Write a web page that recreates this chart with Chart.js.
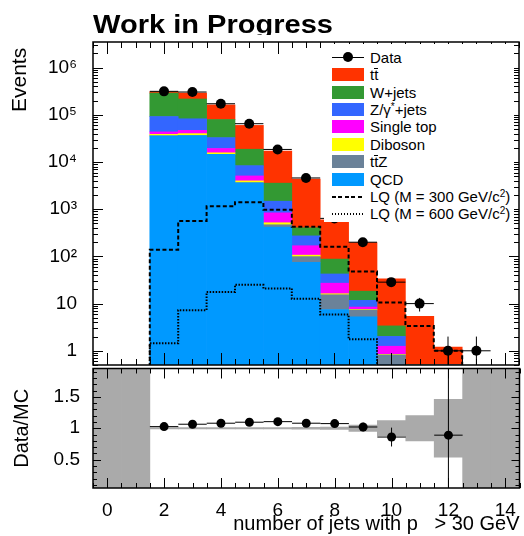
<!DOCTYPE html>
<html lang="en">
<head>
<meta charset="UTF-8">
<title>Jet multiplicity - Work in Progress</title>
<script src="https://cdn.jsdelivr.net/npm/chart.js"></script>
<style>
  html, body { margin: 0; padding: 0; background: #fff; }
  body { font-family: 'Liberation Sans', Arial, sans-serif; }
  #wrap { position: relative; width: 524px; height: 536px; overflow: hidden; }
  #main { position: absolute; left: 0; top: 0; }
  #ratio { position: absolute; left: 0; top: 362px; }
  #legend { position: absolute; left: 324px; top: 44px; width: 190px; height: 178px; background: #fff; }
  #legend .row { position: absolute; left: 0; width: 190px; height: 17px; }
  #legend .sym { position: absolute; left: 8px; top: 2px; width: 32px; height: 13px; }
  #legend .txt { position: absolute; left: 46px; top: 0; line-height: 17px; font-size: 15px; white-space: nowrap; color: #000; }
  #legend .ov { display: inline-block; border-top: 1px solid #000; line-height: 12px; }
  #legend sup { font-size: 10px; vertical-align: 5px; line-height: 0; }
</style>
</head>
<body>
<div id="wrap">
  <canvas id="main" width="524" height="370"></canvas>
  <canvas id="ratio" width="524" height="174"></canvas>
  <div id="legend"></div>
</div>

<script>
const fontFam = "'Liberation Sans', Arial, sans-serif";
Chart.defaults.font.family = fontFam;
Chart.defaults.color = '#000';

// histogram bins (number of jets)
const bins = [2, 3, 4, 5, 6, 7, 8, 9, 10, 11, 12];

// MC samples, stacked bottom to top
const qcd   = [35800, 36300, 14500, 3620, 420, 75, 7.5, 5.25, 0, 0, 0];
const ttz   = [50, 50, 50, 30, 49, 24, 7.9, 2.1, 0.82, 0.15, 0.05];
const dibos = [2850, 3650, 1150, 340, 48, 7.4, 0.8, 0.2, 0.02, 0, 0];
const stop  = [4800, 7000, 3700, 1090, 321, 62, 10.9, 0.9, 0.41, 0.05, 0];
const zjets = [48800, 35600, 13600, 3320, 642, 104, 15.4, 3.3, 0.77, 0.05, 0];
const wjets = [197700, 134400, 46800, 10300, 2090, 134, 45.3, 6.6, 1.35, 0.1, 0.05];
const ttbar = [19000, 73000, 82800, 41100, 13430, 3934, 510, 178.6, 30, 5, 1.1];

// signal shapes (not stacked)
const lq300 = [138, 561, 1160, 1410, 970, 426, 160, 47.7, 10.5, 3.35, 1.0];
const lq600 = [1.44, 7.26, 17.6, 25, 21, 12.7, 5.86, 1.75, 0, 0, 0];

// data
const dataBins   = [2, 3, 4, 5, 6, 7, 8, 9, 10, 11, 12, 13];
const dataCounts = [315000, 305000, 172000, 65000, 18500, 4600, 640, 200, 28.5, 10, 1, 1];
const dataErr    = [561, 552, 415, 255, 136, 68, 25, 14, 5.3, 3.2, 1, 1];

// ratio panel
const ratioBins = [2, 3, 4, 5, 6, 7, 8, 9, 10, 12];
const ratioVals = [1.026, 1.064, 1.08, 1.096, 1.105, 1.08, 1.074, 1.02, 0.86, 0.89];
const ratioErr  = [0.003, 0.004, 0.004, 0.005, 0.009, 0.017, 0.04, 0.07, 0.15, 1.1];
const bandBins  = [0, 1, 2, 3, 4, 5, 6, 7, 8, 9, 10, 11, 12, 13, 14];
const bandLo    = [0, 0, 0.99, 0.99, 0.99, 0.99, 0.99, 0.985, 0.98, 0.95, 0.88, 0.8, 0.54, 0, 0];
const bandHi    = [2, 2, 1.01, 1.01, 1.01, 1.01, 1.01, 1.015, 1.02, 1.05, 1.12, 1.2, 1.46, 2, 2];

const xTickLabels = ['0', '2', '4', '6', '8', '10', '12', '14'];
const supDigits = ['\u2070', '\u00b9', '\u00b2', '\u00b3', '\u2074', '\u2075', '\u2076'];

const samples = [
  { label: 'QCD', values: qcd, color: '#0099ff' },
  { label: 't<span class="ov">t</span>Z', values: ttz, color: '#6b8299' },
  { label: 'Diboson', values: dibos, color: '#ffff00' },
  { label: 'Single top', values: stop, color: '#ff00ff' },
  { label: 'Z/&gamma;<sup>*</sup>+jets', values: zjets, color: '#3366ff' },
  { label: 'W+jets', values: wjets, color: '#339933' },
  { label: 't<span class="ov">t</span>', values: ttbar, color: '#ff3300' }
];

const FLOOR = 0.01; // below the axis, used for histogram edges

function outline(vals) {
  const pts = [{ x: bins[0] - 0.5, y: FLOOR }];
  bins.forEach((b, i) => {
    const v = vals[i] > 0 ? vals[i] : FLOOR;
    pts.push({ x: b - 0.5, y: v }, { x: b + 0.5, y: v });
  });
  pts.push({ x: bins[bins.length - 1] + 0.5, y: FLOOR });
  return pts;
}

function errorBars(xs, ys, errs, lowest) {
  const pts = [];
  xs.forEach((x, i) => {
    pts.push({ x: x - 0.5, y: ys[i] }, { x: x + 0.5, y: ys[i] }, { x: x, y: null });
    pts.push({ x: x, y: Math.max(ys[i] - errs[i], lowest) }, { x: x, y: ys[i] + errs[i] }, { x: x, y: null });
  });
  return pts;
}

function xTicks() {
  const t = [];
  for (let v = -0.5; v <= 14.5 + 1e-9; v += 0.5) t.push({ value: v });
  return t;
}

function logTicks() {
  const t = [];
  for (let e = -1; e <= 6; e++) {
    for (let k = 1; k <= 9; k++) {
      const v = k * Math.pow(10, e);
      if (v >= 0.5 && v <= 3.5e6) t.push({ value: v });
    }
  }
  return t;
}

function isDecade(v) {
  const l = Math.log10(v);
  return Math.abs(l - Math.round(l)) < 1e-6;
}

// keep the axes from pushing the plot area around
function noPad(s) {
  s.paddingTop = 0; s.paddingBottom = 0; s.paddingLeft = 0; s.paddingRight = 0;
}

// ROOT-like frame with ticks drawn inside the frame
const rootFrame = {
  id: 'rootFrame',
  afterDatasetsDraw(chart, args, o) {
    const { ctx, chartArea: a } = chart;
    const sx = chart.scales.x, sy = chart.scales.y;
    ctx.save();
    ctx.strokeStyle = '#000';
    ctx.lineWidth = 1;
    ctx.beginPath();
    sx.ticks.forEach(t => {
      const p = Math.round(sx.getPixelForValue(t.value)) + 0.5;
      const major = Math.abs(t.value / 2 - Math.round(t.value / 2)) < 1e-6;
      const len = major ? o.xMajor : o.xMinor;
      ctx.moveTo(p, a.bottom); ctx.lineTo(p, a.bottom - len);
      ctx.moveTo(p, a.top); ctx.lineTo(p, a.top + len);
    });
    sy.ticks.forEach(t => {
      const p = Math.round(sy.getPixelForValue(t.value)) + 0.5;
      let major;
      if (o.log) major = isDecade(t.value);
      else major = Math.abs(t.value * 2 - Math.round(t.value * 2)) < 1e-6;
      const len = major ? o.yMajor : o.yMinor;
      ctx.moveTo(a.left, p); ctx.lineTo(a.left + len, p);
      ctx.moveTo(a.right, p); ctx.lineTo(a.right - len, p);
    });
    ctx.stroke();
    ctx.lineWidth = 1.5;
    ctx.strokeRect(a.left, a.top, a.right - a.left, a.bottom - a.top);
    ctx.restore();
  }
};

const headline = {
  id: 'headline',
  afterDraw(chart) {
    const ctx = chart.ctx;
    const txt = 'Work in Progress';
    ctx.save();
    ctx.beginPath();
    ctx.rect(0, 0, chart.width, 35);
    ctx.clip();
    ctx.font = 'bold 26px ' + fontFam;
    ctx.fillStyle = '#000';
    ctx.textBaseline = 'alphabetic';
    const w = ctx.measureText(txt).width;
    ctx.translate(93, 33);
    ctx.scale(240 / w, 1);
    ctx.fillText(txt, 0, 0);
    ctx.restore();
  }
};

// ---------- main panel ----------
const mainSets = samples.map(s => ({
  type: 'bar',
  label: s.label,
  data: bins.map((b, i) => ({ x: b, y: s.values[i] })),
  backgroundColor: s.color,
  borderWidth: 0,
  barThickness: 'flex',
  barPercentage: 1,
  categoryPercentage: 1,
  stack: 'mc',
  order: 3
}));

mainSets.push({
  type: 'line', label: 'LQ300', stack: 'lq300', order: 2,
  data: outline(lq300), borderColor: '#000', borderWidth: 2, borderDash: [4, 2.5],
  pointRadius: 0, spanGaps: false, fill: false
});
mainSets.push({
  type: 'line', label: 'LQ600', stack: 'lq600', order: 2,
  data: outline(lq600), borderColor: '#000', borderWidth: 2, borderDash: [1.5, 1.5],
  pointRadius: 0, spanGaps: false, fill: false
});
mainSets.push({
  type: 'line', label: 'err', stack: 'err', order: 1,
  data: errorBars(dataBins, dataCounts, dataErr, FLOOR), borderColor: '#000', borderWidth: 1,
  pointRadius: 0, spanGaps: false, fill: false
});
mainSets.push({
  type: 'line', label: 'Data', stack: 'data', order: 0,
  data: dataBins.map((b, i) => ({ x: b, y: dataCounts[i] })),
  showLine: false, pointRadius: 5, pointBackgroundColor: '#000', pointBorderWidth: 0
});

new Chart(document.getElementById('main'), {
  type: 'bar',
  data: { datasets: mainSets },
  options: {
    responsive: false,
    animation: false,
    events: [],
    layout: { padding: { top: 42, right: 4, left: 0, bottom: 1.5 } },
    plugins: { legend: { display: false }, tooltip: { enabled: false }, rootFrame: { log: true, xMajor: 12, xMinor: 6, yMajor: 10, yMinor: 5 } },
    scales: {
      x: {
        type: 'linear', min: -0.5, max: 14.5, offset: false,
        grid: { display: false }, border: { display: false },
        ticks: { display: false },
        afterBuildTicks: s => { s.ticks = xTicks(); },
        afterFit: s => { s.height = 0; noPad(s); }
      },
      y: {
        type: 'logarithmic', min: 0.5, max: 3.5e6, stacked: true,
        grid: { display: false }, border: { display: false },
        ticks: {
          autoSkip: false, padding: 8, font: { size: 19 },
          callback: v => {
            if (!isDecade(v)) return '';
            const e = Math.round(Math.log10(v));
            if (e === 0) return '1';
            if (e === 1) return '10';
            return '10' + supDigits[e];
          }
        },
        afterBuildTicks: s => { s.ticks = logTicks(); },
        afterFit: s => { s.width = 93; noPad(s); },
        title: { display: true, text: 'Events ', align: 'end', font: { size: 21 }, padding: { top: 8 } }
      }
    }
  },
  plugins: [rootFrame, headline]
});

// ---------- ratio panel ----------
new Chart(document.getElementById('ratio'), {
  type: 'bar',
  data: {
    datasets: [
      {
        type: 'bar', label: 'band', order: 2,
        data: bandBins.map((b, i) => ({ x: b, y: [bandLo[i], bandHi[i]] })),
        backgroundColor: '#aaaaaa', borderWidth: 0,
        barThickness: 'flex', barPercentage: 1, categoryPercentage: 1
      },
      {
        type: 'line', label: 'err', order: 1,
        data: errorBars(ratioBins, ratioVals, ratioErr, -1), borderColor: '#000', borderWidth: 1,
        pointRadius: 0, spanGaps: false, fill: false
      },
      {
        type: 'line', label: 'Data/MC', order: 0,
        data: ratioBins.map((b, i) => ({ x: b, y: ratioVals[i] })),
        showLine: false, pointRadius: 4.5, pointBackgroundColor: '#000', pointBorderWidth: 0
      }
    ]
  },
  options: {
    responsive: false,
    animation: false,
    events: [],
    layout: { padding: { top: 6.5, right: 4, left: 0, bottom: 0 } },
    plugins: { legend: { display: false }, tooltip: { enabled: false }, rootFrame: { log: false, xMajor: 10, xMinor: 5, yMajor: 8, yMinor: 4 } },
    scales: {
      x: {
        type: 'linear', min: -0.5, max: 14.5, offset: false,
        grid: { display: false }, border: { display: false },
        ticks: {
          autoSkip: false, maxRotation: 0, padding: 3, font: { size: 19 },
          callback: v => (Math.abs(v / 2 - Math.round(v / 2)) < 1e-6 ? xTickLabels[Math.round(v / 2)] : '')
        },
        afterBuildTicks: s => { s.ticks = xTicks(); },
        afterFit: s => { s.height = 48; noPad(s); },
        title: { display: true, text: 'number of jets with p   > 30 GeV', align: 'end', font: { size: 20 }, padding: { top: 0, bottom: 0 } }
      },
      y: {
        type: 'linear', min: 0.05, max: 1.95,
        grid: { display: false }, border: { display: false },
        ticks: {
          autoSkip: false, padding: 5, font: { size: 19 },
          callback: v => {
            if (Math.abs(v - 0.5) < 1e-6) return '0.5';
            if (Math.abs(v - 1) < 1e-6) return '1';
            if (Math.abs(v - 1.5) < 1e-6) return '1.5';
            return '';
          }
        },
        afterBuildTicks: s => {
          const t = [];
          for (let k = 1; k <= 19; k++) t.push({ value: k / 10 });
          s.ticks = t;
        },
        afterFit: s => { s.width = 93; noPad(s); },
        title: { display: true, text: 'Data/MC', font: { size: 20 }, padding: { top: 10 } }
      }
    }
  },
  plugins: [rootFrame]
});

// ---------- legend ----------
const legendEntries = [{ label: 'Data', kind: 'data' }]
  .concat(samples.slice().reverse().map(s => ({ label: s.label, kind: 'box', color: s.color })))
  .concat([
    { label: 'LQ (M = 300 GeV/c<sup>2</sup>)', kind: 'dash' },
    { label: 'LQ (M = 600 GeV/c<sup>2</sup>)', kind: 'dot' }
  ]);

const legendBox = document.getElementById('legend');
legendEntries.forEach((e, i) => {
  const row = document.createElement('div');
  row.className = 'row';
  row.style.top = (4.8 + 17.4 * i) + 'px';
  let sym = '';
  if (e.kind === 'box') {
    sym = `<div class="sym" style="background:${e.color}"></div>`;
  } else if (e.kind === 'data') {
    sym = `<div class="sym"><div style="position:absolute;left:0;right:0;top:6px;height:1px;background:#000"></div>` +
          `<div style="position:absolute;left:11px;top:1.5px;width:10px;height:10px;border-radius:50%;background:#000"></div></div>`;
  } else {
    const pat = e.kind === 'dash'
      ? 'repeating-linear-gradient(90deg,#000 0 4px,transparent 4px 6.5px)'
      : 'repeating-linear-gradient(90deg,#000 0 1.5px,transparent 1.5px 3px)';
    sym = `<div class="sym"><div style="position:absolute;left:0;right:0;top:5.5px;height:2px;background:${pat}"></div></div>`;
  }
  row.innerHTML = sym + `<div class="txt">${e.label}</div>`;
  legendBox.appendChild(row);
});
</script>
</body>
</html>
